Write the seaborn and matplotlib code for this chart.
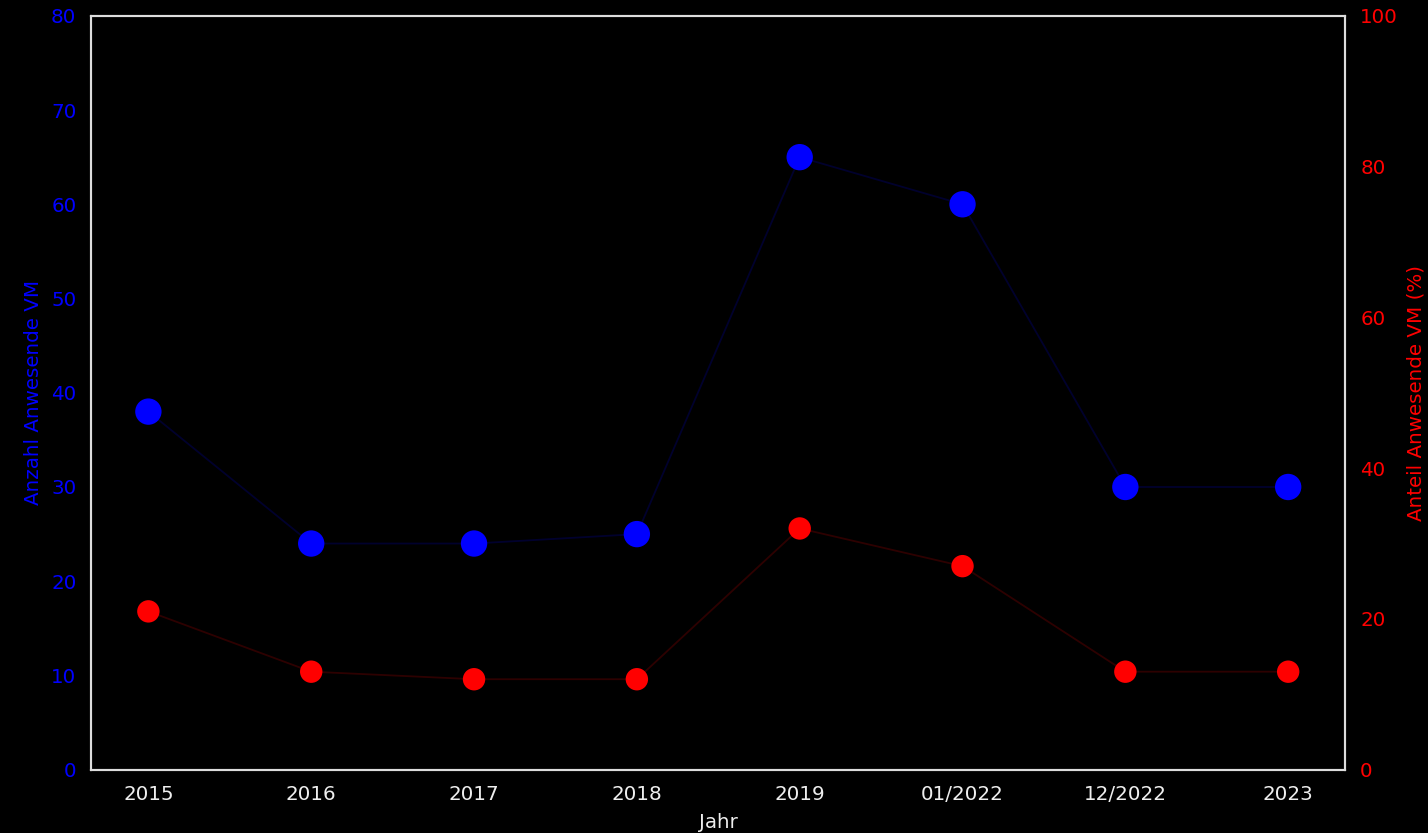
import pandas as pd
import numpy as np
import seaborn as sns
import matplotlib.pyplot as plt

jahre = ["2015", "2016", "2017", "2018", "2019", "01/2022", "12/2022", "2023"]
anzahl_vm = [38, 24, 24, 25, 65, 60, 30, 30]
anteil_vm = [21, 13, 12, 12, 32, 27, 13, 13]

df = pd.DataFrame({"Jahr": jahre, "Anzahl": anzahl_vm, "Anteil": anteil_vm})

plt.rcParams["font.size"] = 14.3
fig, ax1 = plt.subplots(figsize=(14.28, 8.33), dpi=100)
fig.patch.set_facecolor("black")
ax1.set_facecolor("black")

# linke Achse: Anzahl
sns.lineplot(data=df, x="Jahr", y="Anzahl", ax=ax1, color="blue", alpha=0.18,
             linewidth=1.3, sort=False)
sns.scatterplot(data=df, x="Jahr", y="Anzahl", ax=ax1, color="blue", s=360,
                edgecolor="none", zorder=3)
ax1.set_ylim(0, 80)
ax1.set_ylabel("Anzahl Anwesende VM", color="blue", labelpad=6)
ax1.tick_params(axis="y", colors="blue", length=0, pad=10.8)
ax1.tick_params(axis="x", colors="#eeeeee", length=0, pad=10.8)
ax1.set_xlabel("Jahr", color="#eeeeee", labelpad=6.5)

# rechte Achse: Anteil
ax2 = ax1.twinx()
sns.lineplot(data=df, x="Jahr", y="Anteil", ax=ax2, color="red", alpha=0.18,
             linewidth=1.3, sort=False)
sns.scatterplot(data=df, x="Jahr", y="Anteil", ax=ax2, color="red", s=260,
                edgecolor="none", zorder=3)
ax2.set_ylim(0, 100)
ax2.set_ylabel("Anteil Anwesende VM (%)", color="red", labelpad=6)
ax2.tick_params(axis="y", colors="red", length=0, pad=10.8)

for ax in (ax1, ax2):
    for sp in ax.spines.values():
        sp.set_color("#dddddd")
        sp.set_linewidth(1.5)

plt.subplots_adjust(left=0.064, right=0.942, top=0.981, bottom=0.076)
plt.savefig("out.png", facecolor="black")
